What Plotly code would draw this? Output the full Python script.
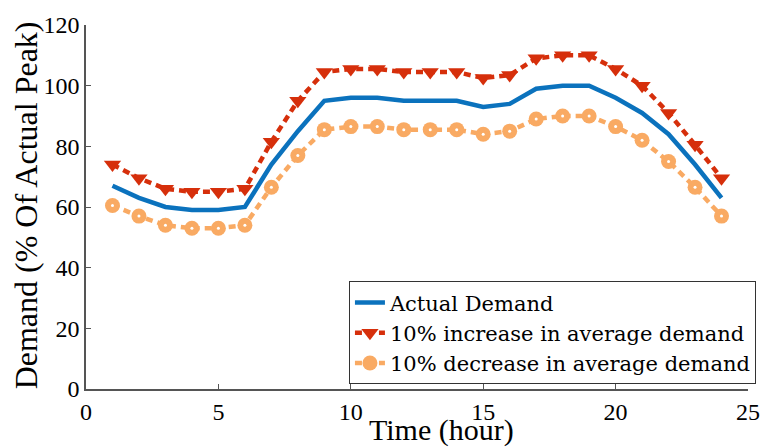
import plotly.graph_objects as go

hours = list(range(1, 25))
actual = [67, 63, 60, 59, 59, 60, 74, 85, 95, 96, 96, 95, 95, 95, 93, 94, 99, 100, 100, 96, 91, 84, 74, 63]
increase = [74, 69.5, 66, 65, 65, 66, 81.5, 95, 104.5, 105.5, 105.5, 104.5, 104.5, 104.5, 102.5, 103.5,
            109, 110, 110, 105.5, 100, 91, 80.5, 69.5]
decrease = [60.5, 57, 54, 53, 53, 54, 66.5, 77, 85.5, 86.5, 86.5, 85.5, 85.5, 85.5, 84, 85,
            89, 90, 90, 86.5, 82, 75, 66.5, 57]
x_ticks = [0, 5, 10, 15, 20, 25]
y_ticks = [0, 20, 40, 60, 80, 100, 120]

names = ["Actual Demand", "10% increase in average demand", "10% decrease in average demand"]
x_title = "Time (hour)"
y_title = "Demand (% Of Actual Peak)"

blue = "#0b72bd"
red = "#d62f0b"
orange = "#f9aa63"
font = "Liberation Serif"
legend_font = "DejaVu Serif"

fig = go.Figure()
fig.add_trace(go.Scatter(x=hours, y=actual, mode="lines", name=names[0],
                         line=dict(color=blue, width=4.5)))
fig.add_trace(go.Scatter(x=hours, y=increase, mode="lines+markers", name=names[1],
                         line=dict(color=red, width=4.5, dash="7px,5px"),
                         marker=dict(symbol="triangle-down", size=15, color=red)))
fig.add_trace(go.Scatter(x=hours, y=decrease, mode="lines+markers", name=names[2],
                         line=dict(color=orange, width=4.5, dash="7px,5px"),
                         marker=dict(symbol="circle", size=15, color=orange)))
fig.add_trace(go.Scatter(x=hours, y=decrease, mode="markers", showlegend=False, hoverinfo="skip",
                         marker=dict(symbol="circle", size=3, color="white")))

axis_common = dict(showgrid=False, zeroline=False, showline=True, linecolor="#555555", linewidth=1.5,
                   ticks="inside", ticklen=5, tickcolor="#555555", ticklabeloverflow="allow",
                   tickfont=dict(size=24, family=font, color="black"))

fig.update_layout(
    width=772, height=447,
    margin=dict(l=86, r=15, t=12, b=58),
    paper_bgcolor="white", plot_bgcolor="white",
    font=dict(family=font, size=24, color="black"),
    showlegend=True,
    legend=dict(x=1.012, y=0.013, xanchor="right", yanchor="bottom",
                bordercolor="#333333", borderwidth=1, bgcolor="white",
                font=dict(size=21, family=legend_font, color="black"), tracegroupgap=0,
                itemwidth=30),
    xaxis=dict(range=[0, 25], tickvals=x_ticks, **axis_common),
    yaxis=dict(range=[0, 120], tickvals=y_ticks, **axis_common),
    annotations=[
        dict(text=x_title, xref="paper", yref="paper", x=(446 - 86) / 671, y=-(431 - 389) / 377,
             xanchor="center", yanchor="middle", showarrow=False,
             font=dict(size=30, family=font, color="black")),
        dict(text=y_title, xref="paper", yref="paper", x=-(86 - 25) / 671, y=(389 - 199) / 377,
             xanchor="center", yanchor="middle", showarrow=False, textangle=-90,
             font=dict(size=32, family=font, color="black")),
    ],
)

fig.write_html("out.html")
